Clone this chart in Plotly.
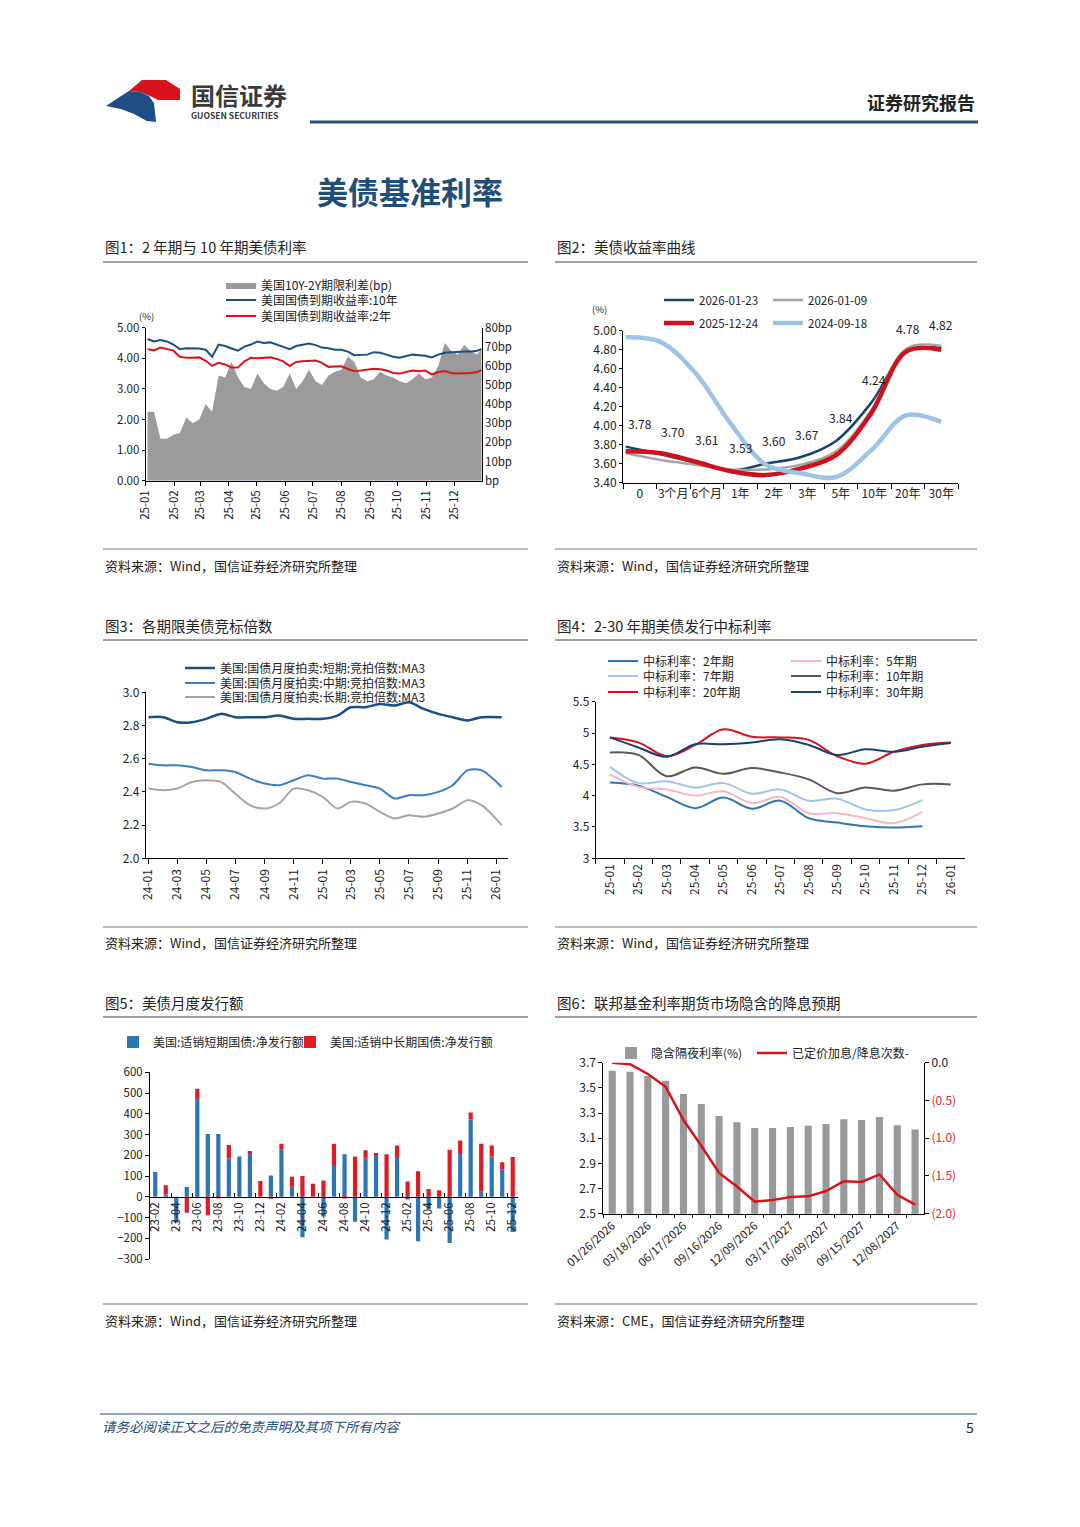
import plotly.graph_objects as go
import pandas as pd

# page is 1080x1527; the html body has an 8px margin, so the figure is 1072x1519
OFF = 8
W, H = 1080 - OFF, 1527 - OFF
FONT = "Noto Sans CJK SC"


def fx(x):
    return (x - OFF) / W


def fy(y):
    return 1 - (y - OFF) / H


# ---------------- DATA ----------------
# Chart 1: weekly, 2025
c1_dates = list(pd.date_range("2025-01-03", periods=52, freq="7D").strftime("%Y-%m-%d")) + ["2025-12-31"]
c1_spread = [36, 36, 22, 22, 24, 25, 33, 30, 32, 40, 36, 55, 54, 62, 54, 49, 48, 56, 51, 48,
             47, 49, 56, 48, 52, 58, 52, 50, 55, 57, 58, 65, 62, 54, 52, 53, 57, 55, 54, 52,
             51, 53, 56, 53, 54, 60, 72, 68, 66, 71, 68, 66, 69]
c1_10y = [4.63, 4.55, 4.60, 4.55, 4.45, 4.30, 4.33, 4.32, 4.32, 4.28, 4.05, 4.45, 4.40, 4.32,
          4.25, 4.38, 4.45, 4.55, 4.50, 4.52, 4.45, 4.38, 4.30, 4.40, 4.45, 4.48, 4.43, 4.35,
          4.33, 4.28, 4.28, 4.22, 4.10, 4.12, 4.12, 4.20, 4.18, 4.12, 4.05, 4.02, 4.08, 4.12,
          4.10, 4.08, 4.03, 4.12, 4.18, 4.20, 4.20, 4.22, 4.22, 4.25, 4.30]
c1_2y = [4.30, 4.26, 4.35, 4.30, 4.25, 4.05, 4.02, 4.02, 4.03, 3.92, 3.75, 3.85, 3.80, 3.70,
         3.70, 3.90, 4.02, 4.00, 4.02, 4.03, 3.98, 3.90, 3.75, 3.88, 3.90, 3.92, 3.93, 3.85,
         3.72, 3.73, 3.74, 3.65, 3.58, 3.60, 3.63, 3.66, 3.64, 3.60, 3.52, 3.50, 3.55, 3.60,
         3.58, 3.60, 3.47, 3.55, 3.58, 3.52, 3.50, 3.50, 3.52, 3.55, 3.62]
c1_bp_ticks = [0, 10, 20, 30, 40, 50, 60, 70, 80]
c1_bp_text = ["bp", "10bp", "20bp", "30bp", "40bp", "50bp", "60bp", "70bp", "80bp"]

# Chart 2: yield curve
c2_tenors = ["0", "3个月", "6个月", "1年", "2年", "3年", "5年", "10年", "20年", "30年"]
c2_20260123 = [3.78, 3.70, 3.61, 3.53, 3.60, 3.67, 3.84, 4.24, 4.78, 4.82]
c2_20260109 = [3.71, 3.64, 3.59, 3.54, 3.54, 3.59, 3.73, 4.16, 4.81, 4.84]
c2_20251224 = [3.73, 3.71, 3.62, 3.52, 3.48, 3.55, 3.69, 4.13, 4.78, 4.80]
c2_20240918 = [4.93, 4.88, 4.55, 4.02, 3.59, 3.50, 3.46, 3.74, 4.11, 4.04]

# Chart 3: bid-to-cover MA3
c3_dates = list(pd.date_range("2024-01-01", periods=24, freq="MS").strftime("%Y-%m-%d")) + ["2026-01-12"]
c3_short = [2.85, 2.85, 2.82, 2.82, 2.84, 2.87, 2.85, 2.85, 2.85, 2.86, 2.84, 2.84, 2.84,
            2.86, 2.91, 2.91, 2.93, 2.92, 2.94, 2.90, 2.87, 2.85, 2.83, 2.85, 2.85]
c3_mid = [2.57, 2.56, 2.56, 2.55, 2.53, 2.53, 2.52, 2.48, 2.45, 2.44, 2.47, 2.50, 2.48,
          2.48, 2.46, 2.44, 2.42, 2.36, 2.38, 2.38, 2.40, 2.44, 2.53, 2.53, 2.43]
c3_long = [2.42, 2.41, 2.42, 2.46, 2.47, 2.46, 2.39, 2.32, 2.30, 2.33, 2.42, 2.41, 2.37,
           2.30, 2.34, 2.33, 2.28, 2.24, 2.26, 2.25, 2.27, 2.30, 2.35, 2.32, 2.20]

# Chart 4: auction high yields
c4_months = ["25-01", "25-02", "25-03", "25-04", "25-05", "25-06", "25-07", "25-08",
             "25-09", "25-10", "25-11", "25-12", "26-01"]
c4_2y = [4.21, 4.16, 3.98, 3.80, 3.97, 3.79, 3.92, 3.64, 3.57, 3.51, 3.49, 3.51, None]
c4_5y = [4.34, 4.14, 4.10, 4.00, 4.07, 3.88, 3.98, 3.72, 3.72, 3.64, 3.56, 3.74, None]
c4_7y = [4.46, 4.20, 4.23, 4.13, 4.20, 4.03, 4.10, 3.92, 3.95, 3.78, 3.77, 3.93, None]
c4_10y = [4.69, 4.65, 4.31, 4.45, 4.35, 4.44, 4.37, 4.26, 4.04, 4.13, 4.08, 4.18, 4.18]
c4_20y = [4.93, 4.85, 4.63, 4.81, 5.06, 4.94, 4.93, 4.89, 4.63, 4.51, 4.70, 4.81, 4.85]
c4_30y = [4.93, 4.77, 4.62, 4.82, 4.82, 4.85, 4.90, 4.81, 4.65, 4.74, 4.70, 4.78, 4.84]

# Chart 5: monthly net issuance
c5_months = list(pd.date_range("2023-02-01", periods=35, freq="MS").strftime("%y-%m"))
c5_bills = [119, 11, -125, 47, 471, 302, 302, 185, 194, 213, 0, 103, 229, 48, -195, 0, -95,
            148, 205, -121, 184, 202, -206, 192, -13, -215, -60, -56, -223, 211, 371, 27,
            194, 131, -170]
c5_coupons = [0, 44, 0, -77, 50, -89, -4, 65, 0, 8, 76, -10, 27, 49, 100, 63, 79, 108, -8,
              194, 40, 9, 205, 55, 74, 123, 37, 32, 227, 60, 35, 229, 53, 35, 192]

# Chart 6: CME FedWatch implied path
c6_dates = ["01/26/2026", "01/28/2026", "03/18/2026", "04/29/2026", "06/17/2026", "07/29/2026",
            "09/16/2026", "10/28/2026", "12/09/2026", "01/27/2027", "03/17/2027", "04/28/2027",
            "06/09/2027", "07/28/2027", "09/15/2027", "10/27/2027", "12/08/2027", "01/26/2028"]
c6_rate = [3.636, 3.628, 3.594, 3.557, 3.451, 3.372, 3.276, 3.226, 3.181, 3.181, 3.189,
           3.199, 3.213, 3.250, 3.244, 3.268, 3.202, 3.170]
c6_moves = [0.0, -0.02, -0.15, -0.32, -0.76, -1.10, -1.46, -1.64, -1.84, -1.82, -1.78, -1.77,
            -1.70, -1.57, -1.58, -1.48, -1.75, -1.88]
c6_right_ticks = [0, -0.5, -1.0, -1.5, -2.0]
c6_right_text = ["<span style='color:#222222'>0.0</span>", "(0.5)", "(1.0)", "(1.5)", "(2.0)"]

# ---------------- FIGURE ----------------
fig = go.Figure()

AX = dict(showline=True, linecolor="#000000", linewidth=1, showgrid=False, zeroline=False,
          automargin=False, ticks="outside", ticklen=4, tickcolor="#000000",
          tickfont=dict(size=12, color="#222222"))


def ax(**kw):
    d = dict(AX)
    d.update(kw)
    return d


legends = {}


def add_legend(name, x, y, size=12, orientation="v"):
    legends[name] = dict(x=fx(x), y=fy(y), xanchor="left", yanchor="middle",
                         orientation=orientation, bgcolor="rgba(0,0,0,0)",
                         font=dict(size=size, color="#222222"), itemwidth=30,
                         tracegroupgap=0, borderwidth=0, visible=True)


ann = []

# ---- Chart 1 ----
fig.add_trace(go.Scatter(x=c1_dates, y=c1_spread, name="美国10Y-2Y期限利差(bp)", mode="lines",
                         line=dict(width=0, color="#9b9b9b"), fill="tozeroy", fillcolor="#9b9b9b",
                         xaxis="x", yaxis="y", legend="legend", showlegend=True))
fig.add_trace(go.Scatter(x=c1_dates, y=c1_10y, name="美国国债到期收益率:10年", mode="lines",
                         line=dict(width=2, color="#1d4f7e"), xaxis="x", yaxis="y2", legend="legend2"))
fig.add_trace(go.Scatter(x=c1_dates, y=c1_2y, name="美国国债到期收益率:2年", mode="lines",
                         line=dict(width=2, color="#d9141f"), xaxis="x", yaxis="y2", legend="legend3"))
add_legend("legend", 221, 285)
add_legend("legend2", 221, 300)
add_legend("legend3", 221, 316)

# ---- Chart 2 ----
c2_series = [("2026-01-23", c2_20260123, "#1a426e", 2.5, "legend4"),
             ("2026-01-09", c2_20260109, "#a5a5a5", 2.5, "legend5"),
             ("2025-12-24", c2_20251224, "#d0101c", 4.5, "legend6"),
             ("2024-09-18", c2_20240918, "#9dc3e6", 4.5, "legend7")]
for nm, vals, col, wd, lg in c2_series:
    fig.add_trace(go.Scatter(x=list(range(len(c2_tenors))), y=vals, name=nm, mode="lines",
                             line=dict(width=wd, color=col, shape="spline", smoothing=1.0),
                             xaxis="x3", yaxis="y3", legend=lg))
for k, v in enumerate(c2_20260123):
    ann.append(dict(x=k, y=v, xref="x2", yref="y3", text="%.2f" % v, showarrow=False,
                    yshift=23, font=dict(size=12, color="#222222", family=FONT)))
add_legend("legend4", 659, 300, 11.5)
add_legend("legend5", 768, 300, 11.5)
add_legend("legend6", 659, 323, 11.5)
add_legend("legend7", 768, 323, 11.5)

# ---- Chart 3 ----
c3_series = [("美国:国债月度拍卖:短期:竞拍倍数:MA3", c3_short, "#1b4f80", 2.5, "legend8", 668),
             ("美国:国债月度拍卖:中期:竞拍倍数:MA3", c3_mid, "#3b7fc0", 2, "legend9", 683),
             ("美国:国债月度拍卖:长期:竞拍倍数:MA3", c3_long, "#a6a6a6", 2, "legend10", 697)]
for nm, vals, col, wd, lg, yy in c3_series:
    fig.add_trace(go.Scatter(x=c3_dates, y=vals, name=nm, mode="lines",
                             line=dict(width=wd, color=col, shape="spline", smoothing=0.8),
                             xaxis="x4", yaxis="y4", legend=lg))
    add_legend(lg, 180, yy, 12)

# ---- Chart 4 ----
c4_series = [("中标利率：2年期", c4_2y, "#2e75b6", "legend11", 603, 661),
             ("中标利率：5年期", c4_5y, "#f6b8c4", "legend12", 786, 661),
             ("中标利率：7年期", c4_7y, "#a4c3e8", "legend13", 603, 676),
             ("中标利率：10年期", c4_10y, "#595959", "legend14", 786, 676),
             ("中标利率：20年期", c4_20y, "#d7141e", "legend15", 603, 692),
             ("中标利率：30年期", c4_30y, "#1b4170", "legend16", 786, 692)]
for nm, vals, col, lg, xx, yy in c4_series:
    fig.add_trace(go.Scatter(x=c4_months, y=vals, name=nm, mode="lines",
                             line=dict(width=2, color=col, shape="spline", smoothing=1.0),
                             xaxis="x5", yaxis="y5", legend=lg))
    add_legend(lg, xx, yy, 12)

# ---- Chart 5 ----
fig.add_trace(go.Bar(x=c5_months, y=c5_bills, name="美国:适销短期国债:净发行额",
                     marker=dict(color="#2e75b6", line=dict(width=0)), xaxis="x6", yaxis="y6",
                     legend="legend17"))
fig.add_trace(go.Bar(x=c5_months, y=c5_coupons, name="美国:适销中长期国债:净发行额",
                     marker=dict(color="#e01b24", line=dict(width=0)), xaxis="x6", yaxis="y6",
                     legend="legend20"))
add_legend("legend17", 113, 1042, 12)
add_legend("legend20", 290, 1042, 12)

# ---- Chart 6 ----
fig.add_trace(go.Bar(x=c6_dates, y=c6_rate, name="隐含隔夜利率(%)",
                     marker=dict(color="#999999", line=dict(width=0)), xaxis="x7", yaxis="y7",
                     legend="legend18"))
fig.add_trace(go.Scatter(x=c6_dates, y=c6_moves, name="已定价加息/降息次数-", mode="lines",
                         line=dict(width=2.5, color="#d7141e"), xaxis="x7", yaxis="y8",
                         legend="legend19"))
add_legend("legend18", 611, 1053, 12)
add_legend("legend19", 752, 1053, 12)

# ---------------- AXES ----------------
lay = {}
# chart 1
lay["xaxis"] = ax(domain=[fx(145.7), fx(481.7)], anchor="y", type="date",
                  range=["2025-01-01", "2025-12-31"], dtick="M1", tick0="2025-01-01",
                  tickformat="%y-%m", tickangle=-90, tickfont=dict(size=11.5, color="#222"))
lay["yaxis"] = ax(domain=[fy(480.7), fy(327.7)], anchor="x", side="right", range=[0, 80],
                  tickvals=c1_bp_ticks, ticktext=c1_bp_text, ticks="",
                  tickfont=dict(size=11.5, color="#222"))
lay["yaxis2"] = ax(overlaying="y", anchor="x", side="left", range=[0, 5], dtick=1,
                   tickformat=".2f", ticklen=3, tickfont=dict(size=11.5, color="#222"))
# chart 2
lay["xaxis2"] = ax(domain=[fx(623), fx(958)], anchor="y3", range=[-0.5, 9.5],
                   tickvals=list(range(len(c2_tenors))), ticktext=c2_tenors, ticks="",
                   tickangle=0,
                   minor=dict(tickvals=[i - 0.5 for i in range(len(c2_tenors) + 1)],
                              ticks="outside", ticklen=5, tickcolor="#000"))
lay["xaxis3"] = dict(overlaying="x2", anchor="y3", range=[-0.076, 9.477], visible=False,
                     automargin=False)
lay["yaxis3"] = ax(domain=[fy(482.7), fy(330.7)], anchor="x2", range=[3.4, 5.0], dtick=0.2,
                   tick0=3.4, tickformat=".2f", ticklen=3)
# chart 3
lay["xaxis4"] = ax(domain=[fx(145.7), fx(508.3)], anchor="y4", type="date",
                   range=["2023-12-26", "2026-01-26"], dtick="M2", tick0="2024-01-01",
                   tickformat="%y-%m", tickangle=-90, ticklen=5)
lay["yaxis4"] = ax(domain=[fy(858.3), fy(692.3)], anchor="x4", range=[2.0, 3.0], dtick=0.2,
                   tickformat=".1f", ticklen=3)
# chart 4
lay["xaxis5"] = ax(domain=[fx(595.7), fx(965)], anchor="y5", type="category",
                   categoryorder="array", categoryarray=c4_months, range=[-0.5, 12.5],
                   tickson="boundaries", tickangle=-90, ticklen=5)
lay["yaxis5"] = ax(domain=[fy(858.3), fy(701.7)], anchor="x5", range=[3, 5.5], dtick=0.5,
                   ticklen=3)
# chart 5
c5_ylo, c5_yhi = fy(1259), fy(1072.3)
c5_range = [-300, 600]
c5_zero_pos = c5_ylo + (0 - c5_range[0]) / (c5_range[1] - c5_range[0]) * (c5_yhi - c5_ylo)
lay["xaxis6"] = ax(domain=[fx(150), fx(518)], anchor="free", position=c5_zero_pos,
                   type="category", categoryorder="array", categoryarray=c5_months,
                   range=[-0.5, len(c5_months) - 0.5], tickvals=c5_months[::2],
                   tickson="boundaries", ticks="inside", ticklen=4, tickangle=-90,
                   layer="above traces", tickfont=dict(size=11.5, color="#222"))
lay["yaxis6"] = ax(domain=[c5_ylo, c5_yhi], anchor="x6", range=c5_range, dtick=100,
                   ticklen=4, tickfont=dict(size=11.5, color="#222"))
# chart 6
lay["xaxis7"] = ax(domain=[fx(603.3), fx(924)], anchor="y7", type="category",
                   categoryorder="array", categoryarray=c6_dates,
                   range=[-0.5, len(c6_dates) - 0.5], tickvals=c6_dates,
                   ticktext=[d if i % 2 == 0 else "" for i, d in enumerate(c6_dates)],
                   tickson="boundaries", tickangle=-42, ticklen=3,
                   tickfont=dict(size=11.5, color="#222"))
lay["yaxis7"] = ax(domain=[fy(1213.7), fy(1062.7)], anchor="x7", range=[2.5, 3.7], dtick=0.2,
                   tick0=2.5, tickformat=".1f", ticklen=4)
lay["yaxis8"] = ax(overlaying="y7", anchor="x7", side="right", range=[-2.0, 0.0],
                   tickvals=c6_right_ticks, ticktext=c6_right_text, ticklen=4,
                   tickfont=dict(size=12, color="#e0262d"))

# ---------------- PAGE DECORATION ----------------
shapes = []


def text(x, y, s, size=13, color="#222222", xanchor="left", yanchor="middle", bold=False):
    if bold:
        s = "<b>" + s + "</b>"
    ann.append(dict(x=fx(x), y=fy(y), xref="paper", yref="paper", text=s, showarrow=False,
                    xanchor=xanchor, yanchor=yanchor, font=dict(size=size, color=color, family=FONT)))


def hline(x0, x1, y, color="#444444", width=1):
    shapes.append(dict(type="line", xref="paper", yref="paper", x0=fx(x0), x1=fx(x1),
                       y0=fy(y), y1=fy(y), line=dict(color=color, width=width)))


def path(points, color):
    d = "M " + " L ".join("%.5f,%.5f" % (fx(a), fy(b)) for a, b in points) + " Z"
    shapes.append(dict(type="path", xref="paper", yref="paper", path=d,
                       fillcolor=color, line=dict(width=0)))


# logo
path([(106, 106), (118, 98), (129, 91), (140, 92), (149, 96), (154, 103), (155, 112),
      (156, 122), (147, 121), (134, 114), (121, 109)], "#1f4e86")
path([(129, 91), (142, 80), (166, 80), (180, 89), (180, 100), (158, 100), (150, 96),
      (140, 92)], "#d7141e")
text(189, 95, "国信证券", 24, "#3a3a3a", bold=True)
text(189, 115, "GUOSEN SECURITIES", 8.5, "#3a3a3a", bold=True)
text(977, 102, "证券研究报告", 18, "#222222", xanchor="right", bold=True)
hline(310, 978, 122, "#1f4e79", 3)
text(410, 190, "美债基准利率", 31, "#1f4e79", xanchor="center", bold=True)

heads = [(103, 247, "图1：2 年期与 10 年期美债利率"), (555, 247, "图2：美债收益率曲线"),
         (103, 625, "图3：各期限美债竞标倍数"), (555, 625, "图4：2-30 年期美债发行中标利率"),
         (103, 1002, "图5：美债月度发行额"), (555, 1002, "图6：联邦基金利率期货市场隐含的降息预期")]
for x, y, s in heads:
    text(x, y, s, 14.5, "#222222")
for y in (262, 640, 1017):
    hline(103, 528, y, "#444444", 1.2)
    hline(555, 977, y, "#444444", 1.2)
for y in (549, 927, 1304):
    hline(103, 528, y, "#777777", 1)
    hline(555, 977, y, "#777777", 1)
src = "资料来源：Wind，国信证券经济研究所整理"
for x, y in ((103, 565), (555, 565), (103, 942), (555, 942), (103, 1320)):
    text(x, y, src, 13)
text(555, 1320, "资料来源：CME，国信证券经济研究所整理", 13)

text(137, 316, "(%)", 9.5)
text(590, 309, "(%)", 9.5)

hline(100, 977, 1414, "#1f4e79", 1)
text(100, 1426, "<i>请务必阅读正文之后的免责声明及其项下所有内容</i>", 13.5, "#1f4e79")
text(976, 1427, "5", 14, "#222222", xanchor="right")

fig.update_layout(
    width=W, height=H, margin=dict(l=0, r=0, t=0, b=0, autoexpand=False), autosize=False,
    paper_bgcolor="white", plot_bgcolor="white",
    font=dict(family=FONT, size=12, color="#222222"),
    showlegend=True,
    barmode="relative", bargap=0.6,
    annotations=ann, shapes=shapes, hovermode=False,
    **lay, **legends,
)

fig.write_html("out.html")
